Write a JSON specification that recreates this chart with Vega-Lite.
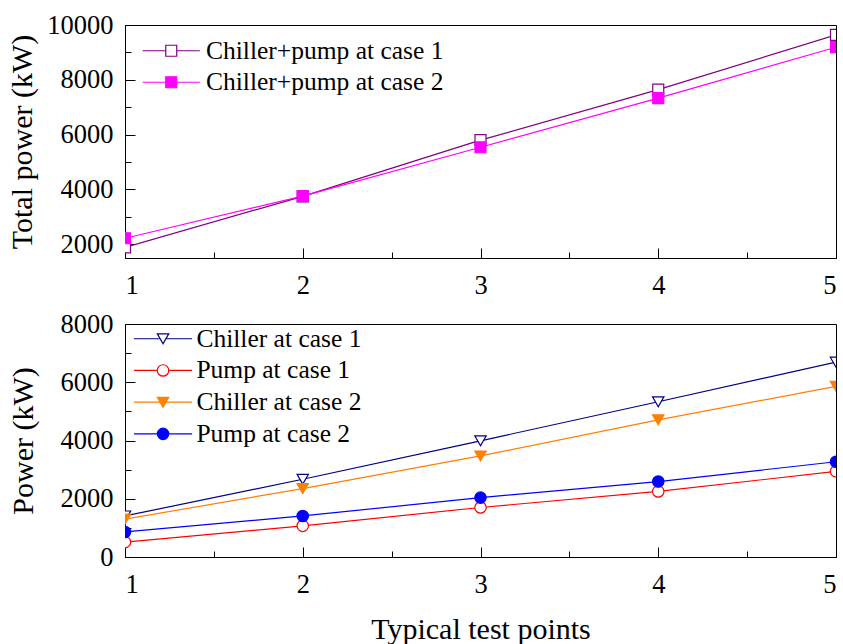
{
  "$schema": "https://vega.github.io/schema/vega-lite/v6.json",
  "padding": {"left": 7, "top": 11, "right": 0, "bottom": 0},
  "background": "white",
  "spacing": 11,
  "resolve": {"scale": {"color": "independent"}, "legend": {"color": "independent"}},
  "config": {
    "view": {"stroke": "black", "strokeWidth": 1},
    "axis": {
      "labelFont": "Liberation Serif", "titleFont": "Liberation Serif",
      "labelFontSize": 26.5, "titleFontSize": 30, "titleFontWeight": "normal",
      "labelColor": "black", "titleColor": "black",
      "domainColor": "black", "tickColor": "black", "grid": false,
      "domainWidth": 1, "tickWidth": 1
    },
    "legend": {"labelFont": "Liberation Serif", "labelFontSize": 25.5, "labelColor": "black", "padding": 0, "labelLimit": 0}
  },
  "datasets": {
    "top": [
      {"x": 1, "y": 1890, "s": "Chiller+pump at case 1"},
      {"x": 2, "y": 3750, "s": "Chiller+pump at case 1"},
      {"x": 3, "y": 5800, "s": "Chiller+pump at case 1"},
      {"x": 4, "y": 7640, "s": "Chiller+pump at case 1"},
      {"x": 5, "y": 9640, "s": "Chiller+pump at case 1"},
      {"x": 1, "y": 2220, "s": "Chiller+pump at case 2"},
      {"x": 2, "y": 3760, "s": "Chiller+pump at case 2"},
      {"x": 3, "y": 5540, "s": "Chiller+pump at case 2"},
      {"x": 4, "y": 7330, "s": "Chiller+pump at case 2"},
      {"x": 5, "y": 9190, "s": "Chiller+pump at case 2"}
    ],
    "bottom": [
      {"x": 1, "y": 1410, "s": "Chiller at case 1"},
      {"x": 2, "y": 2670, "s": "Chiller at case 1"},
      {"x": 3, "y": 3990, "s": "Chiller at case 1"},
      {"x": 4, "y": 5330, "s": "Chiller at case 1"},
      {"x": 5, "y": 6690, "s": "Chiller at case 1"},
      {"x": 1, "y": 510, "s": "Pump at case 1"},
      {"x": 2, "y": 1070, "s": "Pump at case 1"},
      {"x": 3, "y": 1700, "s": "Pump at case 1"},
      {"x": 4, "y": 2250, "s": "Pump at case 1"},
      {"x": 5, "y": 2940, "s": "Pump at case 1"},
      {"x": 1, "y": 1300, "s": "Chiller at case 2"},
      {"x": 2, "y": 2350, "s": "Chiller at case 2"},
      {"x": 3, "y": 3470, "s": "Chiller at case 2"},
      {"x": 4, "y": 4710, "s": "Chiller at case 2"},
      {"x": 5, "y": 5860, "s": "Chiller at case 2"},
      {"x": 1, "y": 860, "s": "Pump at case 2"},
      {"x": 2, "y": 1410, "s": "Pump at case 2"},
      {"x": 3, "y": 2040, "s": "Pump at case 2"},
      {"x": 4, "y": 2590, "s": "Pump at case 2"},
      {"x": 5, "y": 3270, "s": "Pump at case 2"}
    ]
  },
  "vconcat": [
    {
      "width": 711, "height": 233,
      "data": {"name": "top"},
      "layer": [
        {
          "mark": {"type": "line", "strokeWidth": 1.2, "clip": true},
          "encoding": {
            "x": {"field": "x", "type": "quantitative",
              "scale": {"domain": [1, 5], "nice": false, "zero": false},
              "axis": {"values": [1, 2, 3, 4, 5], "tickSize": -10, "labelPadding": 24, "title": null, "format": "d"}},
            "y": {"field": "y", "type": "quantitative",
              "scale": {"domain": [1500, 10000], "nice": false, "zero": false},
              "axis": {"values": [2000, 4000, 6000, 8000, 10000], "tickSize": -10, "labelPadding": 22, "title": "Total power (kW)", "titlePadding": 9, "format": "d"}},
            "color": {"field": "s", "type": "nominal",
              "scale": {"domain": ["Chiller+pump at case 1", "Chiller+pump at case 2"], "range": ["#800080", "#ff00ff"]},
              "legend": {
                "title": null, "orient": "none", "legendX": 11, "legendY": 13,
                "symbolType": "M-5.2,0H-1M1,0H5.2M-1,-1H1V1H-1Z",
                "symbolSize": 121, "symbolStrokeWidth": 1.2,
                "symbolOffset": 22.5, "labelOffset": 22, "rowPadding": 4.5,
                "encode": {"symbols": {"update": {
                  "shape": {"value": "M-5.2,0H-1M1,0H5.2M-1,-1H1V1H-1Z"},
                  "fill": {"signal": "datum.value === 'Chiller+pump at case 1' ? 'white' : '#ff00ff'"},
                  "opacity": {"value": 1}
                }}}
              }}
          }
        },
        {
          "mark": {"type": "point", "size": 121, "strokeWidth": 1.2, "opacity": 1, "filled": false, "clip": true, "shape": "square"},
          "encoding": {
            "x": {"field": "x", "type": "quantitative",
              "axis": {"values": [1.5, 2.5, 3.5, 4.5], "labels": false, "domain": false, "tickSize": -6, "title": null, "orient": "bottom"}},
            "y": {"field": "y", "type": "quantitative",
              "axis": {"values": [3000, 5000, 7000, 9000], "labels": false, "domain": false, "tickSize": -6, "title": null, "orient": "left"}},
            "color": {"field": "s", "type": "nominal"},
            "fill": {"condition": {"test": "datum.s === 'Chiller+pump at case 1'", "value": "white"}, "value": "#ff00ff"}
          }
        }
      ],
      "resolve": {"axis": {"x": "independent", "y": "independent"}}
    },
    {
      "width": 711, "height": 233,
      "data": {"name": "bottom"},
      "layer": [
        {
          "mark": {"type": "line", "strokeWidth": 1.2, "clip": true},
          "encoding": {
            "x": {"field": "x", "type": "quantitative",
              "scale": {"domain": [1, 5], "nice": false, "zero": false},
              "axis": {"values": [1, 2, 3, 4, 5], "tickSize": -10, "labelPadding": 24, "title": "Typical test points", "titlePadding": 17, "format": "d"}},
            "y": {"field": "y", "type": "quantitative",
              "scale": {"domain": [0, 8000], "nice": false, "zero": false},
              "axis": {"values": [0, 2000, 4000, 6000, 8000], "tickSize": -10, "labelPadding": 22, "title": "Power (kW)", "titlePadding": 22, "format": "d"}},
            "color": {"field": "s", "type": "nominal",
              "scale": {"domain": ["Chiller at case 1", "Pump at case 1", "Chiller at case 2", "Pump at case 2"], "range": ["#000080", "#ff0000", "#ff7f00", "#0000ff"]},
              "legend": {
                "title": null, "orient": "none", "legendX": 2, "legendY": 2,
                "symbolSize": 130, "symbolStrokeWidth": 1.2,
                "symbolOffset": 23.3, "labelOffset": 20.6, "rowPadding": 4.7,
                "encode": {"symbols": {"update": {
                  "shape": {"signal": "indexof(datum.value, 'Chiller') === 0 ? 'M-5.1,0H-0.55M0.55,0H5.1M-1,-0.85H1L0,0.9Z' : 'M-5.1,0H-1M1,0H5.1M-1,0A1,1,0,1,1,1,0A1,1,0,1,1,-1,0Z'"},
                  "fill": {"signal": "datum.value === 'Chiller at case 2' ? '#ff7f00' : datum.value === 'Pump at case 2' ? '#0000ff' : 'white'"},
                  "opacity": {"value": 1}
                }}}
              }}
          }
        },
        {
          "mark": {"type": "point", "size": 130, "strokeWidth": 1.2, "opacity": 1, "filled": false, "clip": true},
          "encoding": {
            "x": {"field": "x", "type": "quantitative",
              "axis": {"values": [1.5, 2.5, 3.5, 4.5], "labels": false, "domain": false, "tickSize": -6, "title": null, "orient": "bottom"}},
            "y": {"field": "y", "type": "quantitative",
              "axis": {"values": [1000, 3000, 5000, 7000], "labels": false, "domain": false, "tickSize": -6, "title": null, "orient": "left"}},
            "color": {"field": "s", "type": "nominal"},
            "shape": {"condition": {"test": "indexof(datum.s, 'Chiller') === 0", "value": "triangle-down"}, "value": "circle"},
            "fill": {"condition": [
              {"test": "datum.s === 'Chiller at case 2'", "value": "#ff7f00"},
              {"test": "datum.s === 'Pump at case 2'", "value": "#0000ff"}
            ], "value": "white"}
          }
        }
      ],
      "resolve": {"axis": {"x": "independent", "y": "independent"}}
    }
  ]
}
